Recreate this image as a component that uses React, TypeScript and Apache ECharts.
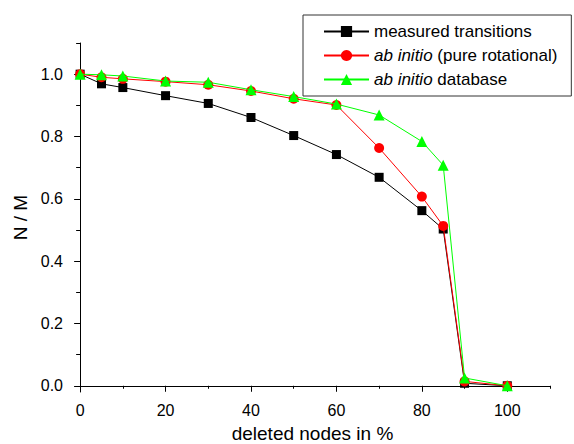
import React, { useEffect, useRef } from "react";
import * as echarts from "echarts";

const xValues = [0, 5, 10, 20, 30, 40, 50, 60, 70, 80, 85, 90, 100];
const measured = [1.0, 0.969, 0.957, 0.931, 0.906, 0.861, 0.803, 0.742, 0.669, 0.562, 0.503, 0.008, 0.0];
const pureRot = [1.0, 0.99, 0.985, 0.976, 0.966, 0.946, 0.921, 0.901, 0.763, 0.607, 0.513, 0.014, 0.0];
const database = [1.0, 0.998, 0.994, 0.978, 0.974, 0.95, 0.928, 0.904, 0.869, 0.784, 0.708, 0.025, 0.0];

const xMajor = [0, 20, 40, 60, 80, 100];
const xMinor = [10, 30, 50, 70, 90, 110];
const yMajor = [0, 0.2, 0.4, 0.6, 0.8, 1.0];
const yMinor = [0.1, 0.3, 0.5, 0.7, 0.9, 1.1];

const seriesNames = ["measured transitions", "ab initio (pure rotational)", "ab initio database"];

const FONT = "Liberation Sans, Arial, sans-serif";

export default function App() {
  const ref = useRef<HTMLDivElement>(null);
  useEffect(() => {
    if (!ref.current) return;
    const chart = echarts.init(ref.current, undefined, { renderer: "svg" });
    const pair = (ys: number[]) => xValues.map((x, i) => [x, ys[i]]);
    const xBase = { type: "value", min: -1.2, max: 110 };
    const yBase = { type: "value", min: -0.02, max: 1.1 };
    chart.setOption({
      animation: false,
      backgroundColor: "#fff",
      textStyle: { fontFamily: FONT },
      grid: { left: 75, right: 24, top: 43, bottom: 52, containLabel: false, outerBoundsMode: "none" },
      legend: {
        left: 303,
        top: 15,
        orient: "vertical",
        itemWidth: 45,
        itemHeight: 14,
        itemGap: 7,
        padding: [8, 14, 8, 20],
        borderColor: "#333",
        borderWidth: 1,
        data: seriesNames,
        textStyle: {
          fontSize: 17,
          color: "#000",
          fontFamily: FONT,
          rich: { i: { fontStyle: "italic", fontSize: 17, color: "#000", fontFamily: FONT } },
        },
        formatter: (name: string) =>
          name.startsWith("ab initio") ? "{i|ab initio}" + name.slice(9) : name,
      },
      xAxis: [
        {
          ...xBase,
          name: "deleted nodes in %",
          nameLocation: "middle",
          nameGap: 32,
          nameTextStyle: { fontSize: 19, color: "#000", fontFamily: FONT },
          splitLine: { show: false },
          axisLine: { show: true, lineStyle: { color: "#000", width: 1 } },
          axisTick: { show: true, length: 6, customValues: xMajor, lineStyle: { color: "#000" } },
          axisLabel: { customValues: xMajor, fontSize: 16, color: "#000", margin: 10, fontFamily: FONT },
        },
        {
          ...xBase,
          position: "bottom",
          splitLine: { show: false },
          axisLine: { show: false },
          axisTick: { show: true, length: 3, customValues: xMinor, lineStyle: { color: "#000" } },
          axisLabel: { show: false },
        },
      ],
      yAxis: [
        {
          ...yBase,
          name: "N / M",
          nameLocation: "middle",
          nameGap: 44,
          nameTextStyle: { fontSize: 19, color: "#000", fontFamily: FONT },
          splitLine: { show: false },
          axisLine: { show: true, lineStyle: { color: "#000", width: 1 } },
          axisTick: { show: true, length: 6, customValues: yMajor, lineStyle: { color: "#000" } },
          axisLabel: {
            customValues: yMajor,
            fontSize: 16,
            color: "#000",
            margin: 12,
            fontFamily: FONT,
            formatter: (v: number) => v.toFixed(1),
          },
        },
        {
          ...yBase,
          position: "left",
          splitLine: { show: false },
          axisLine: { show: false },
          axisTick: { show: true, length: 4, customValues: yMinor, lineStyle: { color: "#000" } },
          axisLabel: { show: false },
        },
      ],
      series: [
        {
          name: seriesNames[0],
          type: "line",
          data: pair(measured),
          symbol: "rect",
          symbolSize: 9,
          lineStyle: { color: "#000", width: 1 },
          itemStyle: { color: "#000" },
          z: 2,
        },
        {
          name: seriesNames[1],
          type: "line",
          data: pair(pureRot),
          symbol: "circle",
          symbolSize: 10,
          lineStyle: { color: "#ff0000", width: 1 },
          itemStyle: { color: "#ff0000" },
          z: 3,
        },
        {
          name: seriesNames[2],
          type: "line",
          data: pair(database),
          symbol: "triangle",
          symbolSize: 11,
          lineStyle: { color: "#00ff00", width: 1 },
          itemStyle: { color: "#00ff00" },
          z: 4,
        },
      ],
    });
    return () => chart.dispose();
  }, []);
  return <div ref={ref} style={{ position: "fixed", left: 0, top: 0, width: 574, height: 444 }} />;
}
